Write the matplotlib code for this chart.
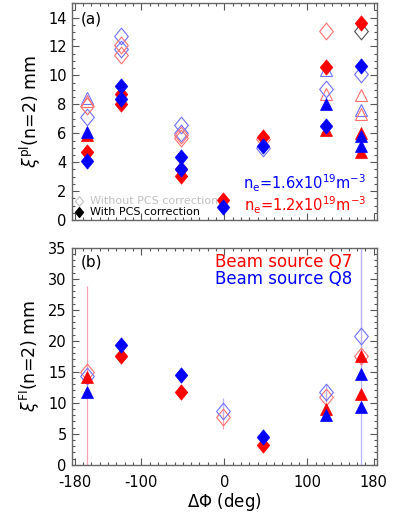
import matplotlib
matplotlib.use("Agg")
import matplotlib.pyplot as plt
from matplotlib.ticker import MultipleLocator, FixedLocator
from matplotlib.path import Path

plt.rcParams['font.family'] = ['DejaVu Sans']
plt.rcParams['mathtext.fontset'] = 'dejavusans'

RED = '#ff0000'
BLUE = '#0000ff'
LRED = '#ff7070'
LBLUE = '#7070ff'

# ---------------- panel (a) data ----------------
a_blue_open_D_x = [-165, -124, -124, -52, -52, 46, 122, 165]
a_blue_open_D_y = [7.1, 12.7, 11.8, 6.6, 6.05, 5.0, 9.05, 10.1]
a_red_open_D_x = [-165, -124, -124, -52, -52, 46, 122]
a_red_open_D_y = [7.9, 12.1, 11.4, 5.9, 5.65, 5.6, 13.1]
a_gray_open_D_x = [165]
a_gray_open_D_y = [13.05]
a_blue_open_T_x = [-165, 122, 165]
a_blue_open_T_y = [8.45, 10.4, 7.6]
a_red_open_T_x = [-165, 122, 165, 165]
a_red_open_T_y = [8.2, 8.7, 8.65, 7.35]

a_red_fill_D_x = [-165, -124, -124, -52, -52, -1, 46, 122, 165]
a_red_fill_D_y = [4.7, 8.7, 8.0, 3.5, 3.07, 1.4, 5.77, 10.6, 13.6]
a_blue_fill_D_x = [-165, -124, -124, -52, -52, -1, 46, 122, 165]
a_blue_fill_D_y = [4.05, 9.3, 8.4, 4.35, 3.55, 0.92, 5.15, 6.47, 10.67]
a_red_fill_T_x = [-165, 122, 165, 165]
a_red_fill_T_y = [5.9, 6.2, 6.0, 4.7]
a_blue_fill_T_x = [-165, 122, 165, 165]
a_blue_fill_T_y = [6.1, 8.0, 5.8, 5.1]

# ---------------- panel (b) data ----------------
b_red_open_D_x = [-165, -1, 122, 165]
b_red_open_D_y = [14.95, 7.7, 11.0, 17.6]
b_red_open_D_lo = [15.0, 1.9, 0.8, 3.0]
b_red_open_D_hi = [13.9, 1.9, 0.8, 20.0]
b_blue_open_D_x = [-165, -1, 122, 165]
b_blue_open_D_y = [14.25, 8.75, 11.7, 20.8]
b_blue_open_D_lo = [0.4, 0.6, 0.9, 21.0]
b_blue_open_D_hi = [0.4, 2.1, 1.2, 20.0]

b_red_fill_D_x = [-124, -52, 46]
b_red_fill_D_y = [17.6, 11.7, 3.2]
b_blue_fill_D_x = [-124, -52, 46]
b_blue_fill_D_y = [19.25, 14.4, 4.4]
b_red_fill_T_x = [-165, 122, 165, 165]
b_red_fill_T_y = [14.1, 9.0, 17.6, 11.4]
b_blue_fill_T_x = [-165, 122, 165, 165]
b_blue_fill_T_y = [11.8, 8.0, 14.6, 9.25]

xticks = [-180, -100, 0, 100, 180]
xticklabels = ['-180', '-100', '0', '100', '180']

DIAM = Path([(0, 1), (0.82, 0), (0, -1), (-0.82, 0), (0, 1)],
            [Path.MOVETO, Path.LINETO, Path.LINETO, Path.LINETO, Path.CLOSEPOLY])

fig = plt.figure(figsize=(4.02, 5.13), dpi=100)
ax1 = fig.add_axes([0.178, 0.571, 0.760, 0.423])
ax2 = fig.add_axes([0.178, 0.094, 0.760, 0.423])

MS_D = 12
MS_T = 8


def style(ax, ymax, ymaj, ymin):
    ax.set_xlim(-184, 184)
    ax.set_ylim(0, ymax)
    ax.xaxis.set_major_locator(FixedLocator(xticks))
    ax.xaxis.set_minor_locator(MultipleLocator(10))
    ax.yaxis.set_major_locator(MultipleLocator(ymaj))
    ax.yaxis.set_minor_locator(MultipleLocator(ymin))
    ax.tick_params(which='both', direction='in', top=True, right=True,
                   colors='#555555', labelcolor='black', labelsize=10.5)
    ax.tick_params(which='major', length=5, width=0.8)
    ax.tick_params(which='minor', length=2.5, width=0.8)
    ax.tick_params(axis='x', pad=7)
    for s in ax.spines.values():
        s.set_color('#666666')
        s.set_linewidth(1.0)


def opn(ax, x, y, m, c, ms, lo=None, hi=None, ecol=None):
    if lo is not None:
        ax.errorbar(x, y, yerr=[lo, hi], fmt='none', ecolor=ecol, elinewidth=0.9,
                    zorder=1)
    ax.plot(x, y, linestyle='none', marker=m, ms=ms, mfc='none', mec=c, mew=0.8,
            zorder=2)


def fil(ax, x, y, m, c, ms, z=3):
    ax.plot(x, y, linestyle='none', marker=m, ms=ms, mfc=c, mec=c, mew=0.5,
            zorder=z)


# ---- panel (a)
style(ax1, 15, 2, 0.5)
ax1.set_xticklabels([])
opn(ax1, a_blue_open_T_x, a_blue_open_T_y, '^', LBLUE, MS_T)
opn(ax1, a_red_open_T_x, a_red_open_T_y, '^', LRED, MS_T)
opn(ax1, a_blue_open_D_x, a_blue_open_D_y, DIAM, LBLUE, MS_D)
opn(ax1, a_red_open_D_x, a_red_open_D_y, DIAM, LRED, MS_D)
opn(ax1, a_gray_open_D_x, a_gray_open_D_y, DIAM, '#505050', MS_D)
fil(ax1, a_red_fill_T_x, a_red_fill_T_y, '^', RED, MS_T)
fil(ax1, a_red_fill_D_x, a_red_fill_D_y, DIAM, RED, MS_D - 1)
fil(ax1, a_blue_fill_T_x, a_blue_fill_T_y, '^', BLUE, MS_T, 4)
fil(ax1, a_blue_fill_D_x, a_blue_fill_D_y, DIAM, BLUE, MS_D - 1, 4)
ax1.set_ylabel(r'$\xi^{\rm pl}$(n=2) mm', fontsize=12.5, labelpad=4)
ax1.text(0.03, 0.96, '(a)', transform=ax1.transAxes, fontsize=11, va='top', ha='left')
ax1.text(0.965, 0.17, r'n$_{\rm e}$=1.6x10$^{19}$m$^{-3}$', color=BLUE,
         transform=ax1.transAxes, fontsize=10.5, ha='right', va='center')
ax1.text(0.965, 0.07, r'n$_{\rm e}$=1.2x10$^{19}$m$^{-3}$', color=RED,
         transform=ax1.transAxes, fontsize=10.5, ha='right', va='center')
# legend
ax1.plot([0.025], [0.088], transform=ax1.transAxes, marker=DIAM, ms=7, mfc='none',
         mec='#c0c0c0', mew=0.8, linestyle='none', clip_on=False)
ax1.text(0.06, 0.088, 'Without PCS correction', color='#c0c0c0', fontsize=8,
         transform=ax1.transAxes, va='center', ha='left')
ax1.plot([0.025], [0.038], transform=ax1.transAxes, marker=DIAM, ms=7, mfc='black',
         mec='black', linestyle='none', clip_on=False)
ax1.text(0.06, 0.038, 'With PCS correction', color='black', fontsize=8,
         transform=ax1.transAxes, va='center', ha='left')

# ---- panel (b)
style(ax2, 35, 5, 1)
ax2.set_xticklabels(xticklabels)
opn(ax2, b_red_open_D_x, b_red_open_D_y, DIAM, LRED, MS_D,
    b_red_open_D_lo, b_red_open_D_hi, '#f4a0b0')
opn(ax2, b_blue_open_D_x, b_blue_open_D_y, DIAM, LBLUE, MS_D,
    b_blue_open_D_lo, b_blue_open_D_hi, '#b4b4ff')
fil(ax2, b_red_fill_T_x, b_red_fill_T_y, '^', RED, MS_T)
fil(ax2, b_red_fill_D_x, b_red_fill_D_y, DIAM, RED, MS_D - 1)
fil(ax2, b_blue_fill_T_x, b_blue_fill_T_y, '^', BLUE, MS_T, 4)
fil(ax2, b_blue_fill_D_x, b_blue_fill_D_y, DIAM, BLUE, MS_D - 1, 4)
ax2.set_ylabel(r'$\xi^{\rm FI}$(n=2) mm', fontsize=12.5, labelpad=4)
ax2.set_xlabel(r'$\Delta\Phi$ (deg)', fontsize=12, labelpad=1)
ax2.text(0.03, 0.935, '(b)', transform=ax2.transAxes, fontsize=11, va='center', ha='left')
ax2.text(0.92, 0.935, 'Beam source Q7', color=RED, transform=ax2.transAxes,
         fontsize=12, ha='right', va='center')
ax2.text(0.92, 0.855, 'Beam source Q8', color=BLUE, transform=ax2.transAxes,
         fontsize=12, ha='right', va='center')

fig.savefig('out.png', dpi=100)
